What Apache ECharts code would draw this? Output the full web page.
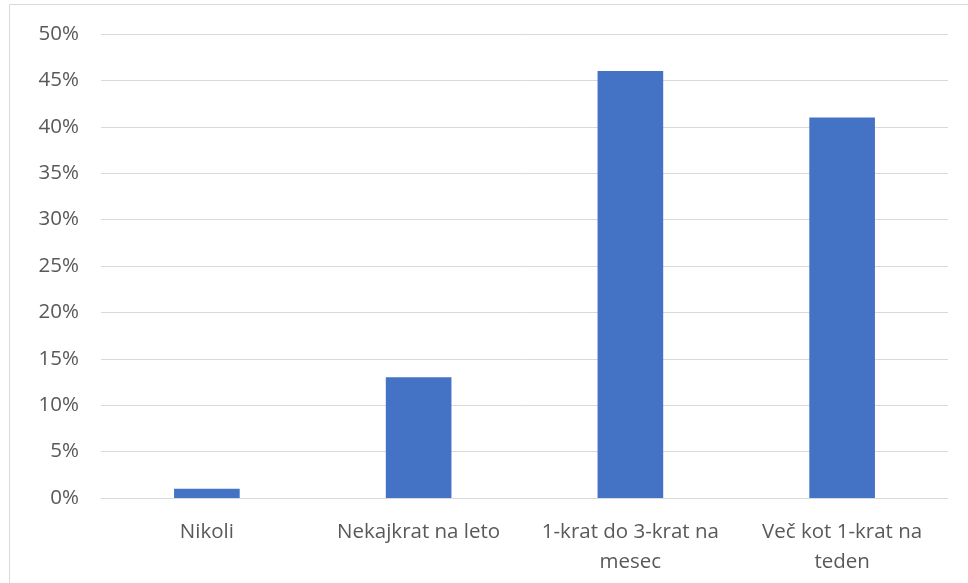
<!DOCTYPE html>
<html>
<head>
<meta charset="utf-8">
<script src="https://cdn.jsdelivr.net/npm/echarts@6/dist/echarts.min.js"></script>
<style>
  html, body { margin: 0; padding: 0; background: #fff; }
  #chart { width: 968px; height: 583px; }
</style>
</head>
<body>
<div id="chart"></div>
<script>
const categories = ["Nikoli", "Nekajkrat na leto", "1-krat do 3-krat na\nmesec", "Več kot 1-krat na\nteden"];
const values = [0.01, 0.13, 0.46, 0.41];
const yTicks = [0, 0.05, 0.1, 0.15, 0.2, 0.25, 0.3, 0.35, 0.4, 0.45, 0.5];

const myChart = echarts.init(document.getElementById("chart"));

const font = "'Open Sans', sans-serif";

const option = {
  animation: false,
  graphic: [
    {
      type: "rect",
      shape: { x: 9.5, y: 4.5, width: 980, height: 600 },
      style: { fill: "none", stroke: "#d9d9d9", lineWidth: 1 },
      silent: true,
    },
  ],
  grid: {
    left: 101,
    right: 20,
    top: 34,
    bottom: 85,
  },
  xAxis: {
    type: "category",
    data: categories,
    axisLine: { show: true, lineStyle: { color: "#d9d9d9", width: 1 } },
    axisTick: { show: false },
    axisLabel: {
      interval: 0,
      hideOverlap: false,
      color: "#595959",
      fontFamily: font,
      fontSize: 20.5,
      lineHeight: 30,
      margin: 19,
    },
  },
  yAxis: {
    type: "value",
    min: yTicks[0],
    max: yTicks[yTicks.length - 1],
    interval: 0.05,
    axisLine: { show: false },
    axisTick: { show: false },
    splitLine: { lineStyle: { color: "#d9d9d9", width: 1 } },
    axisLabel: {
      color: "#595959",
      fontFamily: font,
      fontSize: 20.5,
      margin: 22,
      formatter: (v) => Math.round(v * 100) + "%",
    },
  },
  series: [
    {
      type: "bar",
      data: values,
      barWidth: "31%",
      itemStyle: { color: "#4472c4" },
    },
  ],
};

myChart.setOption(option);
</script>
</body>
</html>
